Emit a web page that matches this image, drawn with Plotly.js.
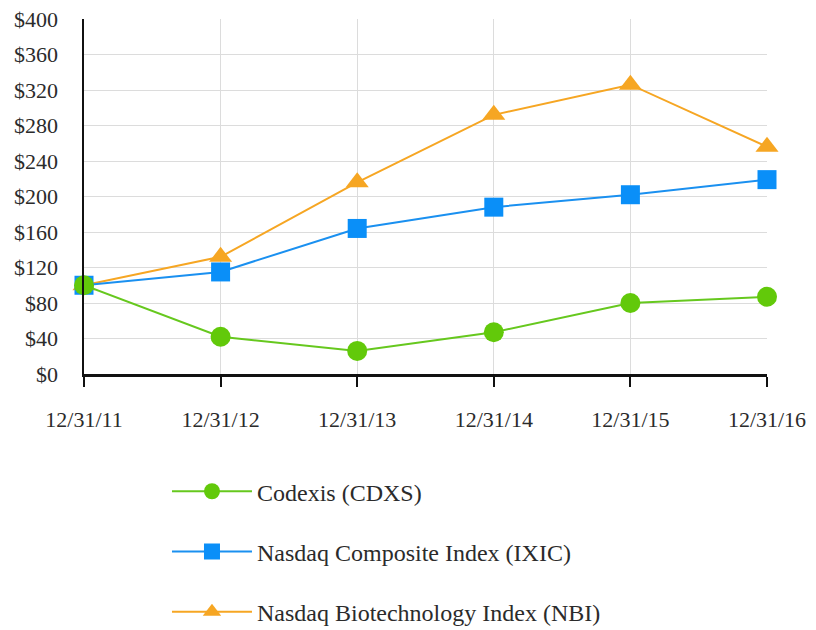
<!DOCTYPE html>
<html>
<head>
<meta charset="utf-8">
<script src="https://cdn.plot.ly/plotly-3.0.1.min.js"></script>
<style>html,body{margin:0;padding:0;background:#fff;}#chart{width:816px;height:630px;}</style>
</head>
<body>
<div id="chart"></div>
<script>
const dates = ["12/31/11", "12/31/12", "12/31/13", "12/31/14", "12/31/15", "12/31/16"];
const codexis = [100, 42, 26, 47, 80, 87];
const nasdaqComposite = [100, 115, 164, 188, 202, 219];
const nasdaqBiotech = [100, 132, 216, 292, 326, 256];
const seriesNames = ["Codexis (CDXS)", "Nasdaq Composite Index (IXIC)", "Nasdaq Biotechnology Index (NBI)"];

const serif = "Liberation Serif, Times New Roman, serif";

const traces = [
  {x: dates, y: nasdaqBiotech, name: seriesNames[2], mode: "lines+markers", legendgroup: "c", legendrank: 3,
   line: {color: "#f6a623", width: 2}, marker: {symbol: "triangle-up", size: 20, color: "#f6a623"}, cliponaxis: false},
  {x: dates, y: nasdaqComposite, name: seriesNames[1], mode: "lines+markers", legendgroup: "b", legendrank: 2,
   line: {color: "#1a90f0", width: 2}, marker: {symbol: "square", size: 19, color: "#0a8ff8"}, cliponaxis: false},
  {x: dates, y: codexis, name: seriesNames[0], mode: "lines+markers", legendgroup: "a", legendrank: 1,
   line: {color: "#66c81e", width: 2}, marker: {symbol: "circle", size: 20, color: "#62c90a"}, cliponaxis: false}
];

const layout = {
  width: 816, height: 630,
  margin: {l: 84, r: 49, t: 19, b: 256, autoexpand: false},
  paper_bgcolor: "#fff", plot_bgcolor: "#fff",
  font: {family: serif, size: 21, color: "#2b2b2b"},
  showlegend: true,
  legend: {x: 0.1215, y: -0.268, xanchor: "left", yanchor: "top", orientation: "v",
           traceorder: "grouped", tracegroupgap: 26, font: {family: serif, size: 24, color: "#2b2b2b"},
           itemwidth: 80, bgcolor: "rgba(0,0,0,0)"},
  xaxis: {type: "category", range: [0, 5], showgrid: true, gridcolor: "#dcdcdc", gridwidth: 1,
          showline: true, linecolor: "#111", linewidth: 2.5, ticks: "outside", ticklen: 10,
          tickcolor: "#111", tickwidth: 2, ticklabelstandoff: 14, zeroline: false, fixedrange: true,
          tickfont: {size: 22}},
  yaxis: {range: [0, 400], dtick: 40, tick0: 0, tickprefix: "$", showgrid: true, gridcolor: "#dcdcdc",
          gridwidth: 1, showline: true, linecolor: "#111", linewidth: 2.5, ticks: "",
          ticklabelstandoff: 19, zeroline: false, fixedrange: true, tickfont: {size: 22}}
};

Plotly.newPlot("chart", traces, layout, {displayModeBar: false, staticPlot: true});
</script>
</body>
</html>
